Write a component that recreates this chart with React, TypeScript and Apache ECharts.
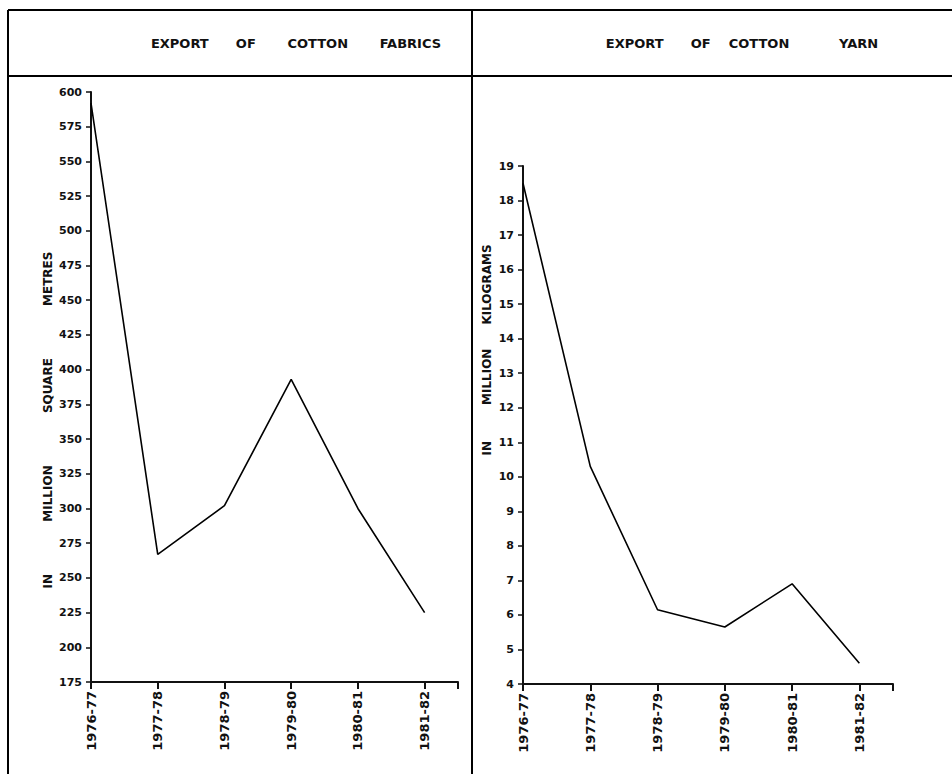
import React, { useEffect, useRef } from "react";
import * as echarts from "echarts";

const categories = ["1976-77", "1977-78", "1978-79", "1979-80", "1980-81", "1981-82"];
const fabricsValues = [592, 267, 302, 393, 300, 225];
const yarnValues = [18.5, 10.3, 6.15, 5.65, 6.9, 4.6];
const S = "\u00a0";
const fabricsTitle = `EXPORT${S.repeat(6)}OF${S.repeat(7)}COTTON${S.repeat(7)}FABRICS`;
const yarnTitle = `EXPORT${S.repeat(6)}OF${S.repeat(4)}COTTON${S.repeat(11)}YARN`;
const E = "\u2003";
const fabricsUnit = `IN${E.repeat(4)}${S}MILLION${E.repeat(4)}${S}SQUARE${E.repeat(4)}${S}METRES`;
const yarnUnit = `IN${E.repeat(3)}MILLION${E.repeat(2)}KILOGRAMS`;

const FONT = "DejaVu Sans";
const INK = "#111";

export default function App() {
  const ref = useRef<HTMLDivElement>(null);
  useEffect(() => {
    if (!ref.current) return;
    const chart = echarts.init(ref.current, null, { renderer: "svg" });
    const xLabel = (v: number) => (Number.isInteger(v) && categories[v] ? categories[v] : "");
    const xAxisBase = {
      type: "value",
      min: 0,
      max: 5.5,
      interval: 1,
      splitLine: { show: false },
      axisLine: { lineStyle: { color: INK, width: 2 } },
      axisTick: { show: true, length: 7, lineStyle: { color: INK, width: 2 } },
      axisLabel: {
        rotate: 90,
        margin: 9,
        formatter: xLabel,
        color: INK,
        fontFamily: FONT,
        fontSize: 13,
        fontWeight: "bold",
        showMaxLabel: true,
      },
    };
    const yAxisBase = {
      type: "value",
      splitLine: { show: false },
      axisLine: { show: true, lineStyle: { color: INK, width: 2 } },
      axisTick: { show: true, length: 5, lineStyle: { color: INK, width: 1.5 } },
      axisLabel: { color: INK, fontFamily: FONT, fontSize: 11, fontWeight: "bold", margin: 9 },
    };
    const lineSeries = (vals: number[], idx: number) => ({
      type: "line",
      xAxisIndex: idx,
      yAxisIndex: idx,
      data: vals.map((v, i) => [i, v]),
      symbol: "none",
      lineStyle: { color: "#000", width: 1.6 },
    });
    const borderLine = (x1: number, y1: number, x2: number, y2: number) => ({
      type: "line",
      shape: { x1, y1, x2, y2 },
      style: { stroke: "#000", lineWidth: 2 },
      silent: true,
    });
    const titleStyle = { fill: INK, font: `bold 13px "${FONT}"`, textAlign: "center", textVerticalAlign: "middle" };
    const unitStyle = { fill: INK, font: `bold 12px "${FONT}"`, textAlign: "center", textVerticalAlign: "middle" };
    chart.setOption({
      animation: false,
      backgroundColor: "#fff",
      grid: [
        { left: 91, top: 92, width: 367, height: 590, containLabel: false },
        { left: 523, top: 166, width: 370, height: 518, containLabel: false },
      ],
      xAxis: [
        { ...xAxisBase, gridIndex: 0 },
        { ...xAxisBase, gridIndex: 1 },
      ],
      yAxis: [
        { ...yAxisBase, gridIndex: 0, min: 175, max: 600, interval: 25 },
        { ...yAxisBase, gridIndex: 1, min: 4, max: 19, interval: 1 },
      ],
      series: [lineSeries(fabricsValues, 0), lineSeries(yarnValues, 1)],
      graphic: [
        borderLine(8, 10, 952, 10),
        borderLine(8, 76, 952, 76),
        borderLine(8, 10, 8, 774),
        borderLine(472, 10, 472, 774),
        { type: "text", x: 296, y: 43, style: { ...titleStyle, text: fabricsTitle } },
        { type: "text", x: 742, y: 43, style: { ...titleStyle, text: yarnTitle } },
        { type: "text", x: 48, y: 420, rotation: Math.PI / 2, style: { ...unitStyle, text: fabricsUnit } },
        { type: "text", x: 487, y: 350, rotation: Math.PI / 2, style: { ...unitStyle, text: yarnUnit } },
      ],
    });
    return () => chart.dispose();
  }, []);
  return (
    <div
      ref={ref}
      style={{ position: "fixed", left: 0, top: 0, width: 952, height: 774, background: "#fff" }}
    />
  );
}
